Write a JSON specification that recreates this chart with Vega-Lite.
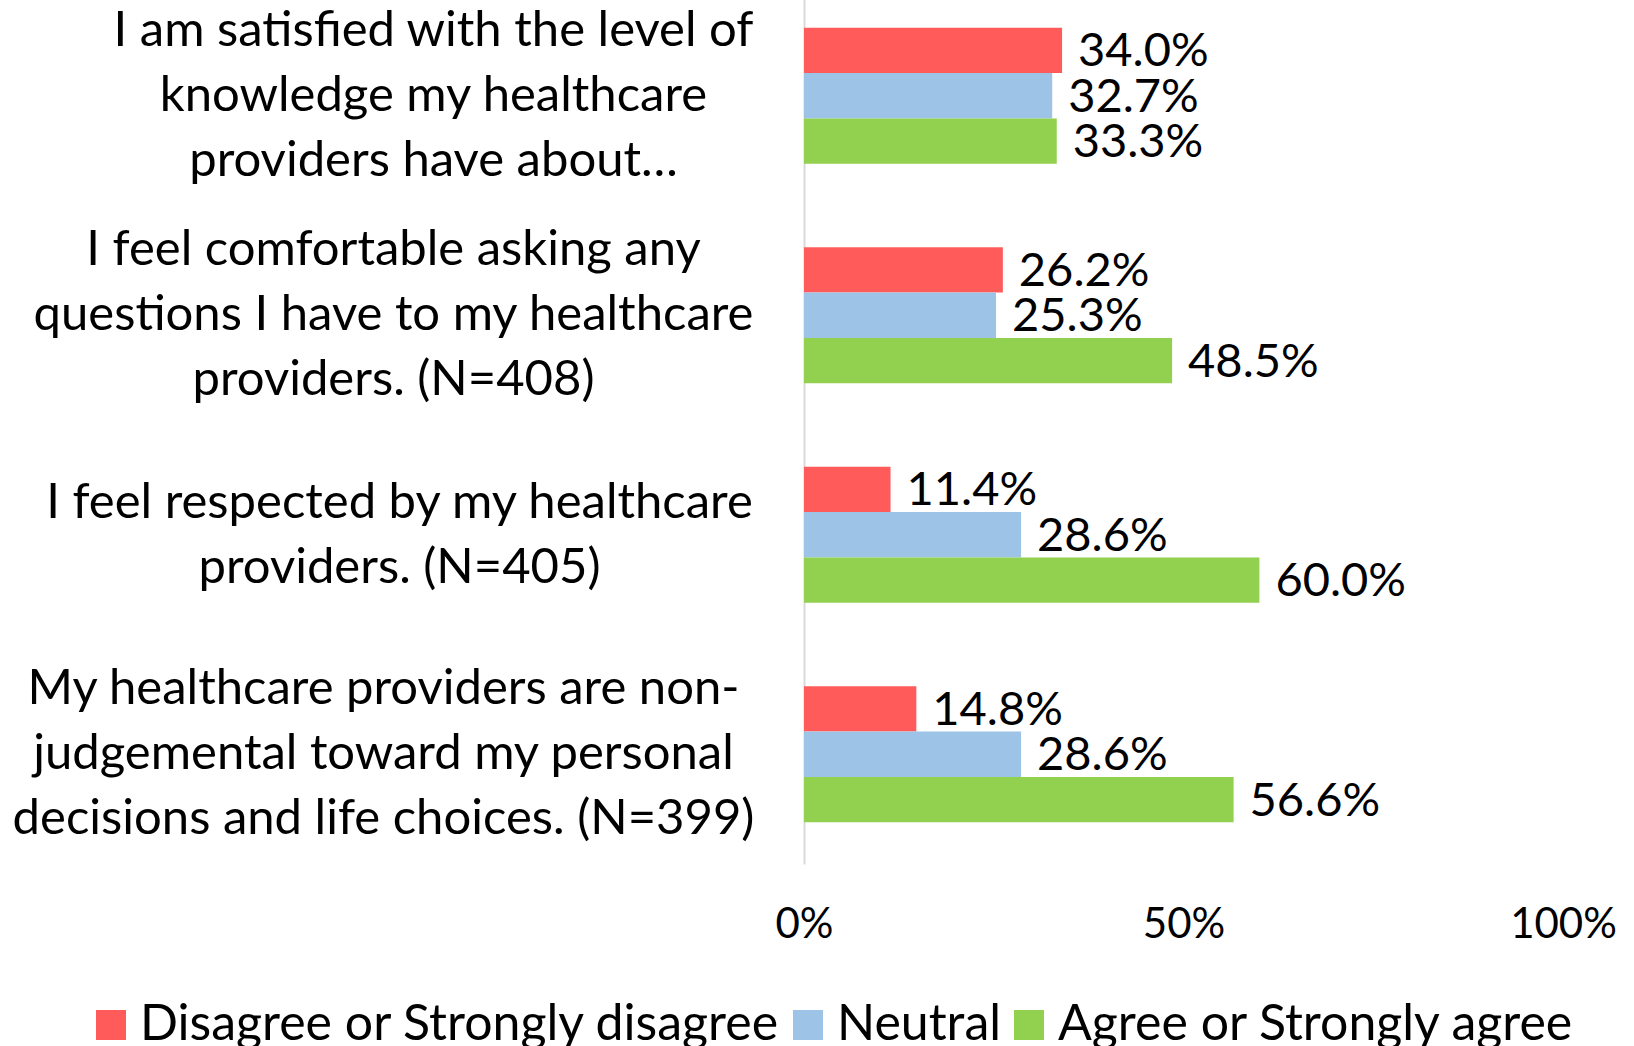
{
  "$schema": "https://vega.github.io/schema/vega-lite/v6.json",
  "width": 759,
  "height": 878,
  "autosize": {"type": "none"},
  "padding": {"left": 804, "top": -14, "right": 71, "bottom": 182},
  "background": "white",
  "config": {"view": {"stroke": null}, "font": "Lato"},
  "data": {
    "values": [
      {"q": "I am satisfied with the level of|knowledge my healthcare|providers have about…", "series": "Disagree or Strongly disagree", "v": 0.340},
      {"q": "I am satisfied with the level of|knowledge my healthcare|providers have about…", "series": "Neutral", "v": 0.327},
      {"q": "I am satisfied with the level of|knowledge my healthcare|providers have about…", "series": "Agree or Strongly agree", "v": 0.333},
      {"q": "I feel comfortable asking any|questions I have to my healthcare|providers. (N=408)", "series": "Disagree or Strongly disagree", "v": 0.262},
      {"q": "I feel comfortable asking any|questions I have to my healthcare|providers. (N=408)", "series": "Neutral", "v": 0.253},
      {"q": "I feel comfortable asking any|questions I have to my healthcare|providers. (N=408)", "series": "Agree or Strongly agree", "v": 0.485},
      {"q": "I feel respected by my healthcare|providers. (N=405)", "series": "Disagree or Strongly disagree", "v": 0.114},
      {"q": "I feel respected by my healthcare|providers. (N=405)", "series": "Neutral", "v": 0.286},
      {"q": "I feel respected by my healthcare|providers. (N=405)", "series": "Agree or Strongly agree", "v": 0.600},
      {"q": "My healthcare providers are non-|judgemental toward my personal|decisions and life choices. (N=399)", "series": "Disagree or Strongly disagree", "v": 0.148},
      {"q": "My healthcare providers are non-|judgemental toward my personal|decisions and life choices. (N=399)", "series": "Neutral", "v": 0.286},
      {"q": "My healthcare providers are non-|judgemental toward my personal|decisions and life choices. (N=399)", "series": "Agree or Strongly agree", "v": 0.566}
    ]
  },
  "encoding": {
    "y": {
      "field": "q",
      "type": "nominal",
      "sort": [
        "I am satisfied with the level of|knowledge my healthcare|providers have about…",
        "I feel comfortable asking any|questions I have to my healthcare|providers. (N=408)",
        "I feel respected by my healthcare|providers. (N=405)",
        "My healthcare providers are non-|judgemental toward my personal|decisions and life choices. (N=399)"
      ],
      "scale": {"paddingInner": 0.38, "paddingOuter": 0.19},
      "axis": {
        "title": null,
        "domain": true,
        "domainColor": "#D9D9D9",
        "domainWidth": 2,
        "ticks": false,
        "labelAlign": "center",
        "labelBaseline": "middle",
        "labelPadding": {
          "condition": [
            {"test": "indexof(datum.label, 'satisfied') >= 0", "value": 371},
            {"test": "indexof(datum.label, 'comfortable') >= 0", "value": 411},
            {"test": "indexof(datum.label, 'respected') >= 0", "value": 405}
          ],
          "value": 421
        },
        "labelOffset": {
          "condition": {"test": "indexof(datum.label, 'respected') >= 0", "value": -32},
          "value": -65
        },
        "labelFontSize": 49,
        "labelColor": "black",
        "labelLineHeight": 65,
        "labelLimit": 0,
        "labelOverlap": false,
        "labelExpr": "split(datum.label, '|')"
      }
    },
    "yOffset": {
      "field": "series",
      "type": "nominal",
      "sort": ["Disagree or Strongly disagree", "Neutral", "Agree or Strongly agree"],
      "scale": {"paddingInner": 0, "paddingOuter": 0}
    },
    "x": {
      "field": "v",
      "type": "quantitative",
      "scale": {"domain": [0, 1]},
      "axis": {
        "title": null,
        "domain": false,
        "ticks": false,
        "grid": false,
        "values": [0, 0.5, 1],
        "format": "%",
        "labelFontSize": 42,
        "labelPadding": 40,
        "labelColor": "black",
        "labelFlush": false
      }
    }
  },
  "layer": [
    {
      "mark": {"type": "bar"},
      "encoding": {
        "color": {
          "field": "series",
          "type": "nominal",
          "sort": ["Disagree or Strongly disagree", "Neutral", "Agree or Strongly agree"],
          "scale": {
            "domain": ["Disagree or Strongly disagree", "Neutral", "Agree or Strongly agree"],
            "range": ["#FF5B5B", "#9DC3E6", "#92D050"]
          },
          "legend": {
            "title": null,
            "orient": "none",
            "legendX": -718,
            "legendY": 1014,
            "direction": "horizontal",
            "columns": 3,
            "symbolType": "square",
            "symbolSize": 900,
            "symbolStrokeWidth": 0,
            "labelFontSize": 50,
            "labelColor": "black",
            "labelOffset": 4,
            "labelLimit": 0,
            "columnPadding": 2
          }
        }
      }
    },
    {
      "mark": {"type": "text", "align": "left", "baseline": "middle", "dx": 16, "dy": 2, "fontSize": 47, "color": "black"},
      "encoding": {
        "text": {"field": "v", "type": "quantitative", "format": ".1%"}
      }
    }
  ]
}
